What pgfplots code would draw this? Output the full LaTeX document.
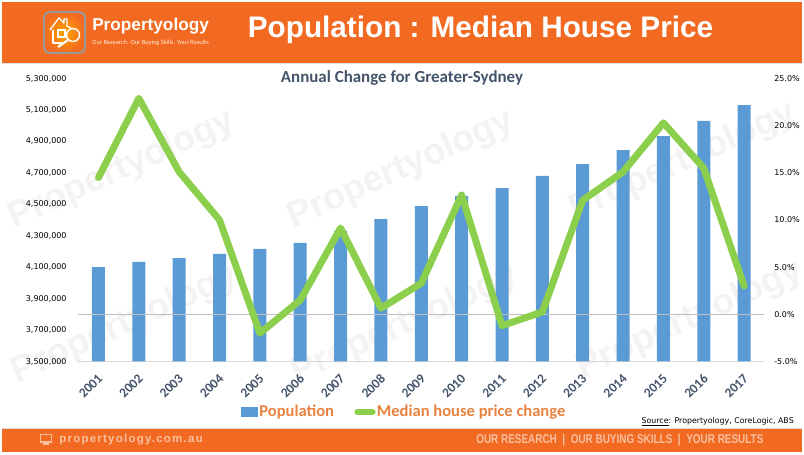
\documentclass[border=0pt]{standalone}
\usepackage{fontspec}
\usepackage{pgfplots}
\pgfplotsset{compat=1.18}
\setmainfont{DejaVu Sans}
\newfontfamily\carlito{Carlito}
\newfontfamily\arial{Liberation Sans}
\newfontfamily\arialspaced[LetterSpace=11]{Liberation Sans}

\definecolor{bannerorange}{HTML}{F26A21}
\definecolor{barblue}{HTML}{5B9BD5}
\definecolor{linegreen}{HTML}{8CCF4D}
\definecolor{slate}{HTML}{44546A}
\definecolor{legendorange}{HTML}{E8823F}
\definecolor{footertext}{HTML}{F9C0A0}
\definecolor{wmark}{HTML}{F4F2F2}

\pgfplotstableread{
year population
2001 4101000
2002 4133000
2003 4158000
2004 4184000
2005 4216000
2006 4254000
2007 4330000
2008 4406000
2009 4489000
2010 4553000
2011 4603000
2012 4680000
2013 4756000
2014 4845000
2015 4934000
2016 5030000
2017 5131000
}\populationdata

\pgfplotstableread{
year change
2001 14.5
2002 22.9
2003 15.1
2004 10.0
2005 -2.0
2006 1.5
2007 9.15
2008 0.65
2009 3.3
2010 12.65
2011 -1.2
2012 0.25
2013 12.1
2014 15.1
2015 20.3
2016 15.5
2017 3.0
}\pricedata

\pgfplotsset{
  shared/.style={
    scale only axis,
    width=514.5pt,
    height=212.25pt,
    at={(58.725pt,69.375pt)},
    anchor=south west,
    xmin=2000.5, xmax=2017.5,
    major tick length=0pt,
    /pgf/number format/assume math mode=true,
  },
}

\begin{document}
\begin{tikzpicture}[x=0.75pt,y=0.75pt]
\useasboundingbox (0,0) rectangle (804,454);
% banners
\fill[bannerorange] (2,391) rectangle (802,452);
\fill[bannerorange] (2,2) rectangle (802,25);
\fill[black!12] (2,390) rectangle (802,391);
\fill[black!12] (2,25) rectangle (802,26);
% watermarks
\foreach \cx/\cy in {122/284,401/284,683/292,125/129,405/129,690/134}
  \node[rotate=24,text=wmark,font=\arial\bfseries\fontsize{27}{27}\selectfont] at (\cx,\cy) {Propertyology};
% logo
\shade[rounded corners=4pt,inner color=orange!70!yellow,outer color=bannerorange] (44,401) rectangle (85,442);
\draw[black!40,line width=1.5pt,rounded corners=4pt] (44,401) rectangle (85,442);
\draw[white,line width=1pt,line join=round] (50,424) -- (59,436) -- (64,431) -- (64,435) -- (67,435) -- (67,428) -- (71,426);
\draw[white,line width=1pt,line join=round] (53,424) -- (53,411) -- (62,411);
\draw[white,line width=0.9pt] (58,417) rectangle (65,424);
\draw[white,line width=1.1pt] (73,419) circle (6.5);
\draw[white,line width=1.6pt] (68,414) -- (58,407);
\node[anchor=west,inner sep=0pt,text=white,font=\arial\bfseries\fontsize{12.9}{14}\selectfont] at (92,428) {Propertyology};
\node[anchor=west,inner sep=0pt,text=white!85!orange,font=\carlito\fontsize{4.8}{5}\selectfont] at (92,411) {Our Research. Our Buying Skills. Your Results};
% titles
\node[anchor=center,inner sep=0pt,text=white,font=\arial\bfseries\fontsize{22.3}{24}\selectfont] at (480.5,424) {Population : Median House Price};
\node[anchor=center,inner sep=0pt,text=slate,font=\carlito\bfseries\fontsize{12.7}{13}\selectfont] at (402,376.5) {Annual Change for Greater-Sydney};
% footer
\fill[footertext] (40,11.5) rectangle (52,20);
\fill[bannerorange] (41.2,13) rectangle (50.8,19);
\fill[footertext] (43,9.5) rectangle (49,10.7);
\node[anchor=west,inner sep=0pt,text=footertext,font=\arialspaced\bfseries\fontsize{8.6}{9}\selectfont] at (59,14) {propertyology.com.au};
\node[anchor=west,inner sep=0pt,text=footertext,font=\arial\bfseries\fontsize{9.6}{10}\selectfont] at (476,14) {\scalebox{0.777}[1]{OUR RESEARCH\ \ |\ \ OUR BUYING SKILLS\ \ |\ \ YOUR RESULTS}};
% source
\node[anchor=east,inner sep=0pt,font=\fontsize{5.9}{7}\selectfont] at (794,32.5) {\underline{Source}: Propertyology, CoreLogic, ABS};

% population bars, left axis
\begin{axis}[
  shared,
  ybar,
  bar width=9.75pt,
  ymin=3500000, ymax=5300000,
  ytick={3500000,3700000,...,5300000},
  scaled y ticks=false,
  axis y line*=left,
  axis x line*=bottom,
  y axis line style={draw=none},
  x axis line style={draw=black!15,line width=0.8pt,-},
  y tick label style={font=\fontsize{6}{7}\selectfont,/pgf/number format/fixed,/pgf/number format/precision=0,/pgf/number format/1000 sep={,},xshift=-5.25pt},
  xtick=data,
  x tick label style={rotate=45,anchor=north east,font=\carlito\bfseries\fontsize{10}{11}\selectfont,text=slate,/pgf/number format/1000 sep={},xshift=-3.5pt,yshift=-2pt},
]
\addplot[fill=barblue,draw=none] table[x=year,y=population] {\populationdata};
\end{axis}

% price change line, right axis
\begin{axis}[
  shared,
  ymin=-5, ymax=25,
  ytick={-5,0,...,25},
  axis y line*=right,
  axis x line=none,
  y axis line style={draw=none},
  y tick label style={font=\fontsize{6}{7}\selectfont,xshift=4pt},
  yticklabel={\pgfmathprintnumber[fixed,fixed zerofill,precision=1]{\tick}\%},
  extra y ticks={0},
  extra y tick labels={},
  extra y tick style={grid=major,major grid style={draw=black!25,line width=0.6pt}},
  legend columns=-1,
  legend style={
    at={(0.2375,-0.178)},anchor=west,draw=none,fill=none,inner sep=0pt,
    font=\carlito\bfseries\fontsize{12.4}{14}\selectfont,text=legendorange,
    /tikz/every even column/.append style={column sep=14.2pt},
    nodes={inner xsep=1pt,inner ysep=0pt},
  },
]
\addlegendimage{legend image code/.code={\fill[barblue] (0pt,-3.4pt) rectangle (12pt,3.4pt);}}
\addlegendentry{Population}
\addplot[linegreen,line width=5.2pt,line cap=round,line join=round,
  legend image code/.code={\draw[linegreen,line width=5pt,line cap=round] (2.5pt,0pt) -- (13.5pt,0pt);}]
  table[x=year,y=change] {\pricedata};
\addlegendentry{Median house price change}
\end{axis}
\end{tikzpicture}
\end{document}
